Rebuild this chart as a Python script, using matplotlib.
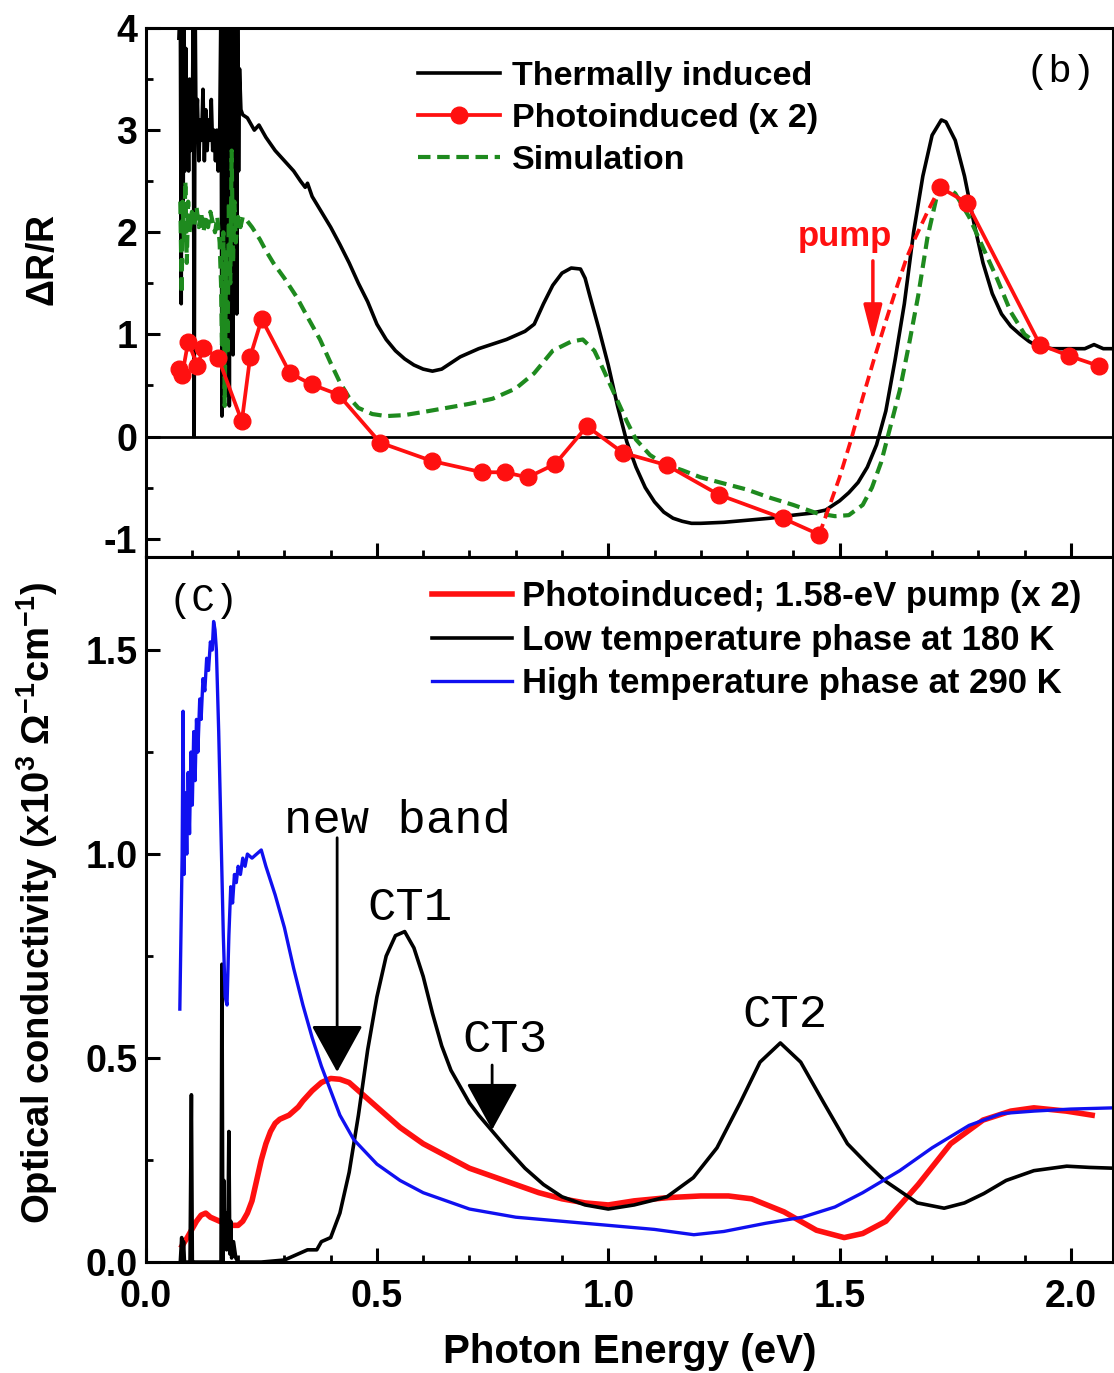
import matplotlib
matplotlib.use('Agg')
import matplotlib.pyplot as plt
from matplotlib.ticker import MultipleLocator, FormatStrFormatter

# ---------------- data: panel (b), Delta R / R ----------------
therm_e = [0.072, 0.075, 0.077, 0.079, 0.081, 0.083, 0.085, 0.087, 0.089, 0.091, 0.093, 0.095,
           0.097, 0.099, 0.101, 0.103, 0.105, 0.107, 0.109, 0.112, 0.115, 0.118, 0.121, 0.124,
           0.127, 0.130, 0.133, 0.136, 0.139, 0.142, 0.145, 0.148, 0.151, 0.154, 0.157, 0.160,
           0.163, 0.165, 0.167, 0.169, 0.171, 0.173, 0.175, 0.177, 0.179, 0.181, 0.183, 0.185,
           0.187, 0.189, 0.191, 0.193, 0.195, 0.197, 0.199, 0.201, 0.203, 0.206, 0.210,
           0.22, 0.235, 0.245, 0.26, 0.28, 0.30, 0.32, 0.335, 0.345, 0.35, 0.36, 0.38, 0.40,
           0.42, 0.44, 0.46, 0.48, 0.50, 0.52, 0.54, 0.56, 0.58, 0.60, 0.62, 0.64, 0.66, 0.68,
           0.70, 0.72, 0.74, 0.76, 0.78, 0.80, 0.82, 0.84, 0.86, 0.88, 0.90, 0.92, 0.94, 0.95,
           0.96, 0.98, 1.00, 1.02, 1.04, 1.06, 1.08, 1.10, 1.12, 1.14, 1.16, 1.18, 1.20, 1.25,
           1.30, 1.35, 1.40, 1.44, 1.47, 1.50, 1.52, 1.54, 1.56, 1.58, 1.60, 1.62, 1.64, 1.66,
           1.68, 1.70, 1.72, 1.73, 1.75, 1.77, 1.79, 1.81, 1.83, 1.85, 1.87, 1.89, 1.91, 1.93,
           1.96, 2.00, 2.03, 2.05, 2.07, 2.09]
therm_v = [3.9, 4.3, 1.3, 4.3, 2.0, 4.2, 2.6, 3.8, 2.9, 3.3, 2.6, 3.5,
           2.8, 3.2, 3.0, 4.3, 0.0, 4.3, 3.0, 3.3, 2.7, 3.1, 2.9, 3.4,
           2.7, 3.2, 2.8, 3.1, 2.9, 3.3, 2.8, 3.0, 2.7, 3.0, 2.6, 2.9,
           4.3, 0.2, 4.3, 0.6, 4.3, 0.4, 4.3, 1.0, 4.3, 0.3, 4.3, 1.5,
           4.3, 0.8, 4.3, 2.0, 4.3, 1.2, 4.0, 2.6, 3.6, 3.2, 3.15,
           3.12, 3.0, 3.05, 2.93, 2.8, 2.7, 2.6, 2.5, 2.44, 2.48, 2.35, 2.2, 2.05,
           1.88, 1.7, 1.5, 1.32, 1.1, 0.95, 0.84, 0.76, 0.7, 0.66, 0.64, 0.66, 0.72, 0.78,
           0.82, 0.86, 0.89, 0.92, 0.95, 0.99, 1.03, 1.1, 1.3, 1.48, 1.6, 1.65, 1.64, 1.55,
           1.38, 1.05, 0.7, 0.3, -0.05, -0.3, -0.5, -0.64, -0.74, -0.8, -0.83, -0.85, -0.85, -0.84,
           -0.82, -0.8, -0.77, -0.75, -0.72, -0.63, -0.55, -0.45, -0.3, -0.08, 0.25, 0.75, 1.3, 2.0,
           2.55, 2.95, 3.1, 3.08, 2.9, 2.55, 2.1, 1.7, 1.4, 1.2, 1.08, 1.0, 0.93, 0.88,
           0.86, 0.86, 0.86, 0.9, 0.86, 0.86]

sim_e = [0.075, 0.078, 0.080, 0.083, 0.086, 0.089, 0.092, 0.095, 0.100, 0.105, 0.110, 0.115,
         0.120, 0.125, 0.130, 0.135, 0.140, 0.145, 0.150, 0.155, 0.160, 0.163, 0.165, 0.168,
         0.171, 0.174, 0.177, 0.180, 0.183, 0.186, 0.189, 0.192, 0.195, 0.200, 0.205, 0.210,
         0.218, 0.23, 0.24, 0.247, 0.26, 0.276, 0.30, 0.326, 0.35, 0.377, 0.40, 0.42, 0.44,
         0.46, 0.49, 0.52, 0.56, 0.60, 0.65, 0.70, 0.75, 0.80, 0.84, 0.88, 0.92, 0.945, 0.97,
         0.99, 1.01, 1.04, 1.06, 1.09, 1.12, 1.16, 1.20, 1.25, 1.30, 1.35, 1.40, 1.45, 1.49,
         1.52, 1.55, 1.57, 1.59, 1.61, 1.63, 1.65, 1.67, 1.69, 1.71, 1.73, 1.75, 1.78, 1.81,
         1.84, 1.87, 1.90, 1.93]
sim_v = [2.3, 1.4, 2.3, 1.9, 2.5, 1.7, 2.3, 2.0, 2.2, 2.05, 2.25, 2.05,
         2.2, 2.0, 2.15, 2.05, 2.2, 2.1, 2.0, 2.15, 1.9, 1.5, 0.9, 2.0,
         0.3, 1.8, 0.8, 2.3, 1.5, 2.8, 1.7, 2.3, 1.9, 2.15, 2.05, 2.15,
         2.12, 2.05, 1.98, 1.93, 1.82, 1.7, 1.55, 1.37, 1.17, 0.95, 0.72, 0.53, 0.38,
         0.28, 0.22, 0.2, 0.21, 0.24, 0.28, 0.32, 0.37, 0.47, 0.62, 0.84, 0.93, 0.95, 0.84,
         0.65, 0.45, 0.15, -0.03, -0.18, -0.27, -0.33, -0.4, -0.46, -0.52, -0.6, -0.67, -0.75, -0.78,
         -0.77, -0.67, -0.5, -0.25, 0.1, 0.45, 0.9, 1.38, 1.95, 2.35, 2.45, 2.38, 2.15, 1.85,
         1.55, 1.22, 1.0, 0.9]

photo_e1 = [0.072, 0.079, 0.092, 0.112, 0.125, 0.157, 0.208, 0.226, 0.251, 0.312, 0.359, 0.417,
            0.507, 0.619, 0.727, 0.776, 0.826, 0.885, 0.954, 1.032, 1.126, 1.239, 1.377, 1.456]
photo_v1 = [0.66, 0.60, 0.93, 0.69, 0.87, 0.77, 0.15, 0.78, 1.15, 0.62, 0.51, 0.41,
            -0.06, -0.24, -0.35, -0.35, -0.40, -0.27, 0.10, -0.16, -0.28, -0.57, -0.80, -0.96]
photo_gap_e = [1.456, 1.475, 1.50, 1.525, 1.55, 1.574, 1.60, 1.622, 1.645, 1.662, 1.69, 1.717]
photo_gap_v = [-0.96, -0.72, -0.40, -0.03, 0.38, 0.75, 1.13, 1.44, 1.75, 1.93, 2.2, 2.44]
photo_e2 = [1.717, 1.775, 1.933, 1.996, 2.061]
photo_v2 = [2.44, 2.29, 0.90, 0.79, 0.69]

# ---------------- data: panel (c), optical conductivity ----------------
high_e = [0.074, 0.079, 0.081, 0.083, 0.086, 0.089, 0.092, 0.095, 0.098, 0.101, 0.104, 0.107,
          0.110, 0.113, 0.117, 0.120, 0.124, 0.128, 0.132, 0.136, 0.140, 0.144, 0.147, 0.150,
          0.153, 0.158, 0.163, 0.168, 0.172, 0.176, 0.180, 0.184, 0.188, 0.192, 0.196, 0.200,
          0.205, 0.21, 0.215, 0.22, 0.23, 0.24, 0.25, 0.26, 0.28, 0.30, 0.32, 0.34, 0.36, 0.38,
          0.40, 0.42, 0.45, 0.50, 0.55, 0.60, 0.65, 0.70, 0.80, 0.90, 1.00, 1.10, 1.185, 1.25,
          1.34, 1.42, 1.49, 1.55, 1.63, 1.70, 1.78, 1.85, 1.92, 2.00, 2.093]
high_v = [0.62, 1.0, 1.35, 0.95, 1.15, 1.0, 1.2, 1.05, 1.25, 1.12, 1.3, 1.18,
          1.33, 1.25, 1.38, 1.33, 1.43, 1.40, 1.48, 1.45, 1.52, 1.50, 1.57, 1.55,
          1.50, 1.3, 1.05, 0.8, 0.65, 0.63, 0.8, 0.92, 0.88, 0.95, 0.93, 0.97,
          0.95, 0.99, 0.97, 1.0, 0.99, 1.0, 1.01, 0.97, 0.9, 0.82, 0.72, 0.63, 0.55, 0.48,
          0.42, 0.36, 0.30, 0.24, 0.20, 0.17, 0.15, 0.13, 0.11, 0.10, 0.09, 0.08, 0.067, 0.075,
          0.095, 0.11, 0.135, 0.17, 0.224, 0.28, 0.335, 0.364, 0.37, 0.375, 0.378]

low_e = [0.075, 0.078, 0.080, 0.082, 0.084, 0.096, 0.099, 0.101, 0.105, 0.163, 0.165, 0.167,
         0.169, 0.171, 0.173, 0.175, 0.178, 0.180, 0.182, 0.184, 0.186, 0.19, 0.195, 0.20,
         0.25, 0.30, 0.33, 0.35, 0.37, 0.38, 0.40, 0.42, 0.44, 0.46, 0.48, 0.50, 0.52, 0.54,
         0.56, 0.58, 0.60, 0.62, 0.64, 0.66, 0.68, 0.70, 0.72, 0.75, 0.78, 0.82, 0.86, 0.90,
         0.95, 1.00, 1.056, 1.127, 1.184, 1.235, 1.285, 1.328, 1.372, 1.416, 1.466, 1.517, 1.56,
         1.597, 1.668, 1.726, 1.77, 1.812, 1.86, 1.92, 1.991, 2.04, 2.093]
low_v = [0.0, 0.06, 0.0, 0.05, 0.0, 0.0, 0.41, 0.0, 0.0, 0.0, 0.73, 0.0,
         0.2, 0.05, 0.12, 0.03, 0.08, 0.32, 0.02, 0.1, 0.01, 0.05, 0.01, 0.0,
         0.0, 0.005, 0.02, 0.03, 0.03, 0.05, 0.06, 0.12, 0.22, 0.36, 0.52, 0.65, 0.75, 0.80,
         0.81, 0.77, 0.70, 0.61, 0.53, 0.47, 0.43, 0.39, 0.36, 0.32, 0.28, 0.23, 0.19, 0.16,
         0.14, 0.13, 0.14, 0.16, 0.207, 0.28, 0.39, 0.49, 0.537, 0.49, 0.39, 0.29, 0.24,
         0.2, 0.145, 0.132, 0.145, 0.168, 0.2, 0.224, 0.235, 0.232, 0.23]

pump_e = [0.079, 0.09, 0.10, 0.11, 0.12, 0.13, 0.14, 0.15, 0.16, 0.17, 0.18, 0.19, 0.20, 0.21,
          0.22, 0.23, 0.24, 0.25, 0.26, 0.27, 0.28, 0.29, 0.30, 0.31, 0.32, 0.33, 0.34, 0.36,
          0.38, 0.40, 0.42, 0.44, 0.46, 0.48, 0.50, 0.55, 0.60, 0.65, 0.70, 0.75, 0.80, 0.85,
          0.90, 0.95, 1.00, 1.056, 1.13, 1.20, 1.26, 1.31, 1.38, 1.45, 1.51, 1.55, 1.60, 1.67,
          1.74, 1.81, 1.87, 1.92, 1.99, 2.046]
pump_v = [0.04, 0.06, 0.08, 0.10, 0.115, 0.12, 0.11, 0.105, 0.10, 0.095, 0.09, 0.09, 0.09, 0.10,
          0.12, 0.15, 0.20, 0.25, 0.29, 0.32, 0.34, 0.35, 0.355, 0.36, 0.37, 0.38, 0.395, 0.42,
          0.44, 0.45, 0.448, 0.44, 0.42, 0.40, 0.38, 0.33, 0.29, 0.26, 0.23, 0.21, 0.19, 0.17,
          0.155, 0.145, 0.14, 0.15, 0.158, 0.162, 0.162, 0.155, 0.123, 0.078, 0.06, 0.07, 0.10, 0.19,
          0.29, 0.348, 0.37, 0.378, 0.37, 0.36]

RED = '#ff1010'
BLUE = '#1010f0'
GREEN = '#1e8a1e'

plt.rcParams['font.family'] = ['Liberation Sans', 'DejaVu Sans']
plt.rcParams['font.weight'] = 'bold'
plt.rcParams['axes.unicode_minus'] = False
plt.rcParams['mathtext.fontset'] = 'custom'
plt.rcParams['mathtext.rm'] = 'Liberation Sans:bold'
plt.rcParams['mathtext.it'] = 'Liberation Sans:bold'
plt.rcParams['mathtext.bf'] = 'Liberation Sans:bold'
plt.rcParams['axes.linewidth'] = 2.2

fig = plt.figure(figsize=(11.14, 13.73), dpi=100)
ax1 = fig.add_axes([0.1307, 0.5943, 0.8684, 0.3853])
ax2 = fig.add_axes([0.1307, 0.0808, 0.8684, 0.5135], sharex=ax1)

# ---- panel (b)
ax1.axhline(0, color='black', lw=2)
ax1.plot(therm_e, therm_v, color='black', lw=2.6, label='Thermally induced')
ax1.plot(sim_e, sim_v, color=GREEN, lw=3, ls=(0, (3, 1.6)), label='Simulation')
ax1.plot(photo_e1, photo_v1, color=RED, lw=2.7, marker='o', ms=12, label='Photoinduced (x 2)')
ax1.plot(photo_gap_e, photo_gap_v, color=RED, lw=2.7, ls=(0, (3, 1.6)))
ax1.plot(photo_e2, photo_v2, color=RED, lw=2.7, marker='o', ms=12)

ax1.set_xlim(0, 2.091)
ax1.set_ylim(-1.18, 4.0)
ax1.yaxis.set_major_locator(MultipleLocator(1))
ax1.yaxis.set_minor_locator(MultipleLocator(0.5))
ax1.xaxis.set_major_locator(MultipleLocator(0.5))
ax1.xaxis.set_minor_locator(MultipleLocator(0.1))
ax1.tick_params(axis='x', labelbottom=False)
ax1.set_ylabel(r'$\Delta$R/R', fontsize=27, fontweight='bold')
ax1.yaxis.set_label_coords(-0.086, 0.56)

h = ax1.get_legend_handles_labels()[0]
ax1.legend([h[0], h[2], h[1]], ['Thermally induced', 'Photoinduced (x 2)', 'Simulation'],
           loc='upper left', bbox_to_anchor=(0.2816, 0.937), frameon=False, fontsize=24.5,
           handlelength=2.4, handletextpad=0.35, labelspacing=0.32, borderpad=0,
           borderaxespad=0, numpoints=1)
ax1.text(1.977, 3.57, '(b)', fontsize=28, family='Liberation Mono', fontweight='normal',
         ha='center', va='center')
ax1.text(1.512, 1.96, 'pump', color=RED, fontsize=25, ha='center', va='center')
ax1.annotate('', xy=(1.572, 0.93), xytext=(1.572, 1.72),
             arrowprops=dict(arrowstyle='-|>,head_length=1.1,head_width=0.28',
                             color=RED, lw=2.5, mutation_scale=20, shrinkA=0, shrinkB=0))

# ---- panel (c)
ax2.plot(pump_e, pump_v, color=RED, lw=4, label='Photoinduced; 1.58-eV pump (x 2)')
ax2.plot(low_e, low_v, color='black', lw=2.6, label='Low temperature phase at 180 K')
ax2.plot(high_e, high_v, color=BLUE, lw=2.4, label='High temperature phase at 290 K')
ax2.set_ylim(0, 1.728)
ax2.yaxis.set_major_locator(MultipleLocator(0.5))
ax2.yaxis.set_minor_locator(MultipleLocator(0.25))
ax2.set_xlabel('Photon Energy (eV)', fontsize=29, fontweight='bold')
ax2.xaxis.set_label_coords(0.5, -0.1)
ax2.set_ylabel(r'Optical conductivity (x10$^{3}$ $\Omega^{-1}$cm$^{-1}$)', fontsize=27.5,
               fontweight='bold')
ax2.yaxis.set_label_coords(-0.088, 0.51)
ax2.legend(loc='upper left', bbox_to_anchor=(0.296, 0.967), frameon=False, fontsize=25,
           handlelength=2.3, handletextpad=0.3, labelspacing=0.3, borderpad=0,
           borderaxespad=0)
ax2.text(0.125, 1.62, '(C)', fontsize=28, family='Liberation Mono', fontweight='normal',
         ha='center', va='center')

mono = dict(family='Liberation Mono', fontweight='normal', fontsize=34, ha='center', va='center')
ax2.text(0.545, 1.08, 'new band', **mono)
ax2.text(0.572, 0.868, 'CT1', **mono)
ax2.text(0.777, 0.545, 'CT3', **mono)
ax2.text(1.382, 0.605, 'CT2', **mono)
ax2.annotate('', xy=(0.414, 0.466), xytext=(0.414, 1.04),
             arrowprops=dict(arrowstyle='-|>,head_length=1.0,head_width=0.55',
                             color='black', lw=2, mutation_scale=30, shrinkA=0, shrinkB=0))
ax2.annotate('', xy=(0.749, 0.324), xytext=(0.749, 0.483),
             arrowprops=dict(arrowstyle='-|>,head_length=1.0,head_width=0.55',
                             color='black', lw=2, mutation_scale=30, shrinkA=0, shrinkB=0))

for ax in (ax1, ax2):
    ax.tick_params(which='major', direction='in', length=10, width=2.2, labelsize=27)
    ax.tick_params(which='minor', direction='in', length=5, width=2)
ax2.tick_params(axis='x', which='major', pad=12)
ax1.tick_params(axis='y', which='major', pad=6)
ax2.tick_params(axis='y', which='major', pad=6)

ax2.xaxis.set_major_formatter(FormatStrFormatter('%.1f'))
ax2.yaxis.set_major_formatter(FormatStrFormatter('%.1f'))

fig.savefig('out.png', dpi=100)
